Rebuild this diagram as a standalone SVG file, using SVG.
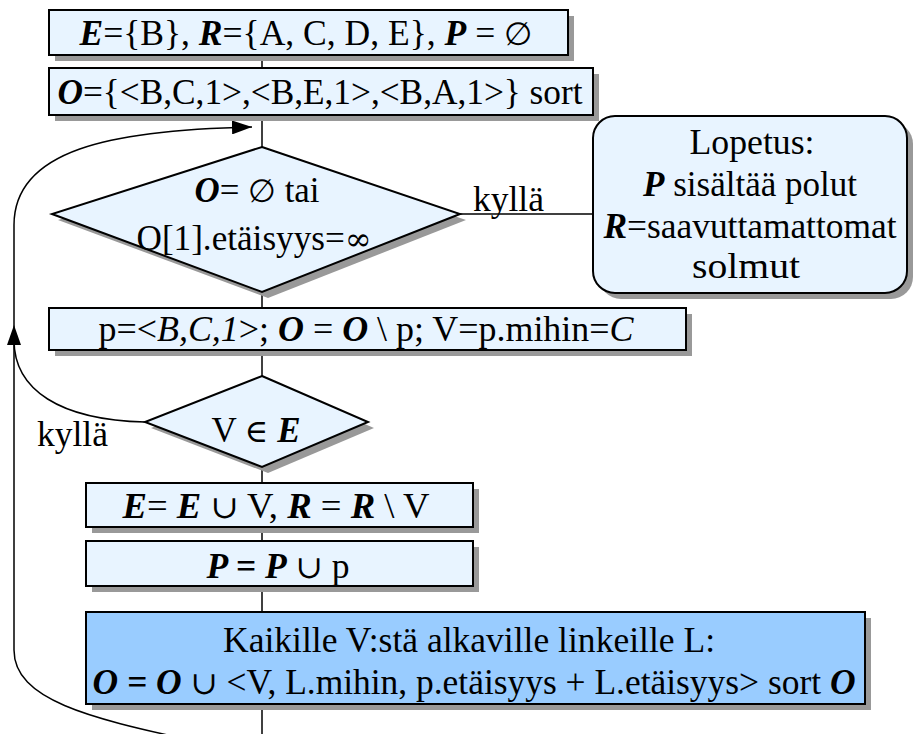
<svg xmlns="http://www.w3.org/2000/svg" width="918" height="734" viewBox="0 0 918 734">
<style>
.box{fill:#e8f4ff;stroke:#000;stroke-width:2}
.dark{fill:#99ccff;stroke:#000;stroke-width:2}
.sh{fill:#999}
.t{font-family:"Liberation Serif","Times New Roman",serif;font-size:35px;fill:#000}
.c{text-anchor:middle}
.bi{font-weight:bold;font-style:italic}
.i{font-style:italic}
.s{font-family:"DejaVu Serif",serif;font-size:32px}
.ln{fill:none;stroke:#000;stroke-width:1.5}
</style>
<defs>
<marker id="ah2" viewBox="0 0 10 10" refX="10" refY="5" markerWidth="20" markerHeight="14" markerUnits="userSpaceOnUse" orient="auto" preserveAspectRatio="none">
<path d="M0,0 L10,5 L0,10 z" fill="#000"/>
</marker>
</defs>
<g id="connectors">
<line class="ln" x1="262" y1="55" x2="262" y2="68"/>
<line class="ln" x1="262" y1="115" x2="262" y2="147"/>
<line class="ln" x1="460" y1="214" x2="593" y2="214"/>
<line class="ln" x1="262" y1="292" x2="262" y2="308"/>
<line class="ln" x1="262" y1="350" x2="262" y2="376"/>
<line class="ln" x1="262" y1="467" x2="262" y2="483"/>
<line class="ln" x1="262" y1="527" x2="262" y2="541"/>
<line class="ln" x1="262" y1="586" x2="262" y2="612"/>
<line class="ln" x1="262" y1="704" x2="262" y2="734"/>
<path class="ln" d="M190 740 C90 718 14 700 14 650 L14 325" marker-end="url(#ah2)"/>
<path class="ln" d="M145 422 C60 420 14 390 14 340"/>
<path class="ln" d="M14 325 L14 225 C14 150 110 130 252 127" marker-end="url(#ah2)"/>
<text class="t" x="473" y="211" textLength="71" lengthAdjust="spacingAndGlyphs">kyllä</text>
<text class="t" x="37" y="446" textLength="71" lengthAdjust="spacingAndGlyphs">kyllä</text>
</g>
<g id="n1">
<rect class="sh" x="55" y="16" width="519" height="45"/>
<rect class="box" x="49" y="10" width="519" height="45"/>
<text class="t c" x="306" y="45" textLength="453" lengthAdjust="spacingAndGlyphs"><tspan class="bi">E</tspan>={B}, <tspan class="bi">R</tspan>={A, C, D, E}, <tspan class="bi">P</tspan> = <tspan class="s">∅</tspan></text>
</g>
<g id="n2">
<rect class="sh" x="55" y="74" width="544" height="47"/>
<rect class="box" x="49" y="68" width="544" height="47"/>
<text class="t c" x="320" y="104" textLength="525" lengthAdjust="spacingAndGlyphs"><tspan class="bi">O</tspan>={&lt;B,C,1&gt;,&lt;B,E,1&gt;,&lt;B,A,1&gt;} sort</text>
</g>
<g id="n3">
<polygon class="sh" points="268,153 466,220 268,298 58,220"/>
<polygon class="box" points="262,147 460,214 262,292 52,214"/>
<text class="t c" x="257" y="202" textLength="125" lengthAdjust="spacingAndGlyphs"><tspan class="bi">O</tspan>= <tspan class="s">∅</tspan> tai</text>
<text class="t c" x="254" y="250" textLength="235" lengthAdjust="spacingAndGlyphs">O[1].etäisyys=<tspan class="s">∞</tspan></text>
</g>
<g id="n4">
<rect class="sh" x="599" y="122" width="314" height="177" rx="22"/>
<rect class="box" x="593" y="116" width="314" height="177" rx="22"/>
<text class="t c" x="752" y="154" textLength="125" lengthAdjust="spacingAndGlyphs">Lopetus:</text>
<text class="t c" x="750" y="196" textLength="214" lengthAdjust="spacingAndGlyphs"><tspan class="bi">P</tspan> sisältää polut</text>
<text class="t c" x="750" y="238" textLength="293" lengthAdjust="spacingAndGlyphs"><tspan class="bi">R</tspan>=saavuttamattomat</text>
<text class="t c" x="746" y="278" textLength="108" lengthAdjust="spacingAndGlyphs">solmut</text>
</g>
<g id="n5">
<rect class="sh" x="55" y="314" width="637" height="42"/>
<rect class="box" x="49" y="308" width="637" height="42"/>
<text class="t c" x="366" y="341" textLength="535" lengthAdjust="spacingAndGlyphs">p=&lt;<tspan class="i">B,C,1</tspan>&gt;; <tspan class="bi">O</tspan> = <tspan class="bi">O</tspan> \ p; V=p.mihin=<tspan class="i">C</tspan></text>
</g>
<g id="n6">
<polygon class="sh" points="268,382 374,428 268,473 151,428"/>
<polygon class="box" points="262,376 368,422 262,467 145,422"/>
<text class="t c" x="256" y="442">V <tspan class="s">∈</tspan> <tspan class="bi">E</tspan></text>
</g>
<g id="n7">
<rect class="sh" x="92" y="489" width="387" height="44"/>
<rect class="box" x="86" y="483" width="387" height="44"/>
<text class="t c" x="276" y="518" textLength="307" lengthAdjust="spacingAndGlyphs"><tspan class="bi">E</tspan>= <tspan class="bi">E</tspan> <tspan class="s">∪</tspan> V,  <tspan class="bi">R</tspan> = <tspan class="bi">R</tspan> \ V</text>
</g>
<g id="n8">
<rect class="sh" x="92" y="547" width="387" height="45"/>
<rect class="box" x="86" y="541" width="387" height="45"/>
<text class="t c" x="278" y="578" textLength="143" lengthAdjust="spacingAndGlyphs"><tspan class="bi">P = P</tspan> <tspan class="s">∪</tspan> p</text>
</g>
<g id="n9">
<rect class="sh" x="92" y="618" width="779" height="92"/>
<rect class="dark" x="86" y="612" width="779" height="92"/>
<text class="t c" x="469" y="652" textLength="492" lengthAdjust="spacingAndGlyphs">Kaikille V:stä alkaville linkeille L:</text>
<text class="t c" x="474" y="694" textLength="763" lengthAdjust="spacingAndGlyphs"><tspan class="bi">O = O</tspan> <tspan class="s">∪</tspan> &lt;V, L.mihin, p.etäisyys + L.etäisyys&gt; sort <tspan class="bi">O</tspan></text>
</g>
</svg>
